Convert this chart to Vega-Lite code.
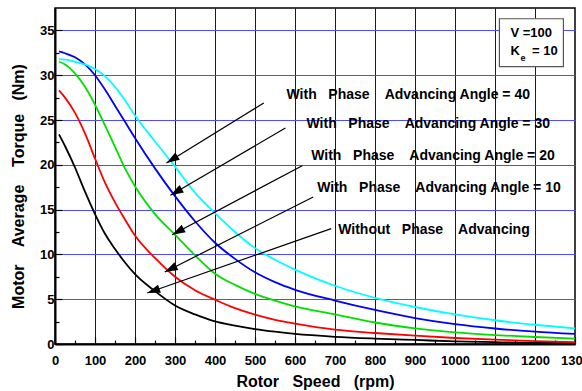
{
  "$schema": "https://vega.github.io/schema/vega-lite/v6.json",
  "autosize": {"type": "none"},
  "padding": {"left": 55, "top": 8, "right": 7, "bottom": 47},
  "width": 520,
  "height": 336,
  "background": "white",
  "config": {
    "view": {"stroke": "black", "strokeWidth": 1.5},
    "font": "Liberation Sans"
  },
  "resolve": {"axis": {"x": "independent", "y": "independent"}},
  "datasets": {
    "curves": [
      {"rpm": 10, "a40": 31.8, "a30": 32.65, "a20": 31.5, "a10": 28.3, "a0": 23.4},
      {"rpm": 25, "a40": 31.75, "a30": 32.45, "a20": 31.2, "a10": 27.5, "a0": 22.1},
      {"rpm": 50, "a40": 31.5, "a30": 32.0, "a20": 30.2, "a10": 25.8, "a0": 19.7},
      {"rpm": 75, "a40": 31.2, "a30": 31.2, "a20": 28.7, "a10": 23.5, "a0": 17.0},
      {"rpm": 100, "a40": 30.7, "a30": 30.0, "a20": 26.7, "a10": 20.7, "a0": 14.5},
      {"rpm": 125, "a40": 29.9, "a30": 28.4, "a20": 24.4, "a10": 18.0, "a0": 12.3},
      {"rpm": 150, "a40": 28.7, "a30": 26.6, "a20": 22.0, "a10": 15.8, "a0": 10.6},
      {"rpm": 175, "a40": 27.2, "a30": 24.8, "a20": 19.6, "a10": 13.9, "a0": 9.1},
      {"rpm": 200, "a40": 25.5, "a30": 23.0, "a20": 17.6, "a10": 12.1, "a0": 7.8},
      {"rpm": 250, "a40": 22.6, "a30": 19.6, "a20": 14.5, "a10": 9.6, "a0": 5.9},
      {"rpm": 300, "a40": 19.8, "a30": 16.5, "a20": 12.2, "a10": 7.5, "a0": 4.3},
      {"rpm": 350, "a40": 16.9, "a30": 13.7, "a20": 9.9, "a10": 6.0, "a0": 3.3},
      {"rpm": 400, "a40": 14.6, "a30": 11.3, "a20": 7.85, "a10": 4.94, "a0": 2.52},
      {"rpm": 450, "a40": 12.5, "a30": 9.5, "a20": 6.6, "a10": 4.0, "a0": 2.05},
      {"rpm": 500, "a40": 10.7, "a30": 8.0, "a20": 5.6, "a10": 3.27, "a0": 1.67},
      {"rpm": 550, "a40": 9.4, "a30": 6.9, "a20": 4.85, "a10": 2.7, "a0": 1.37},
      {"rpm": 600, "a40": 8.3, "a30": 6.05, "a20": 4.2, "a10": 2.27, "a0": 1.12},
      {"rpm": 700, "a40": 6.5, "a30": 4.85, "a20": 3.3, "a10": 1.6, "a0": 0.8},
      {"rpm": 800, "a40": 5.15, "a30": 3.8, "a20": 2.4, "a10": 1.23, "a0": 0.6},
      {"rpm": 900, "a40": 4.13, "a30": 2.9, "a20": 1.75, "a10": 0.93, "a0": 0.45},
      {"rpm": 1000, "a40": 3.3, "a30": 2.22, "a20": 1.3, "a10": 0.67, "a0": 0.3},
      {"rpm": 1100, "a40": 2.65, "a30": 1.73, "a20": 1.0, "a10": 0.48, "a0": 0.2},
      {"rpm": 1200, "a40": 2.15, "a30": 1.38, "a20": 0.78, "a10": 0.33, "a0": 0.13},
      {"rpm": 1300, "a40": 1.74, "a30": 1.12, "a20": 0.6, "a10": 0.22, "a0": 0.1}
    ],
    "arrows": [
      {"x1": 522, "y1": 26.9, "x2": 278.75, "y2": 20.2, "angle": 238.3},
      {"x1": 576, "y1": 24.1, "x2": 288.75, "y2": 16.6, "angle": 239.6},
      {"x1": 618, "y1": 19.9, "x2": 293, "y2": 12.2, "angle": 242.0},
      {"x1": 645.5, "y1": 16.4, "x2": 274.5, "y2": 8.04, "angle": 243.3},
      {"x1": 690.5, "y1": 12.87, "x2": 230.5, "y2": 5.69, "angle": 250.7}
    ],
    "labels": [
      {"t": "With\u00a0\u00a0 Phase\u00a0\u00a0\u00a0 Advancing Angle = 40", "x": 578.75, "y": 27.8},
      {"t": "With\u00a0\u00a0 Phase\u00a0\u00a0\u00a0 Advancing Angle = 30", "x": 628.75, "y": 24.6},
      {"t": "With\u00a0\u00a0 Phase\u00a0\u00a0\u00a0 Advancing Angle = 20", "x": 640.5, "y": 21.0},
      {"t": "With\u00a0\u00a0 Phase\u00a0\u00a0\u00a0 Advancing Angle = 10", "x": 655.5, "y": 17.4},
      {"t": "Without\u00a0\u00a0 Phase\u00a0\u00a0\u00a0 Advancing", "x": 708, "y": 12.68}
    ],
    "box": [{"x1": 1111, "x2": 1271, "y1": 30.95, "y2": 36.3}],
    "boxtext": [
      {"t": "V =100", "x": 1138.75, "y": 34.7},
      {"t": "K", "x": 1138.75, "y": 32.66},
      {"t": "= 10", "x": 1192.5, "y": 32.66}
    ],
    "subtext": [{"t": "e", "x": 1163.75, "y": 31.9}]
  },
  "layer": [
    {
      "data": {"name": "curves"},
      "transform": [{"fold": ["a0", "a10", "a20", "a30", "a40"], "as": ["series", "torque"]}],
      "mark": {"type": "line", "interpolate": "monotone", "strokeWidth": 1.8},
      "encoding": {
        "x": {
          "field": "rpm", "type": "quantitative",
          "scale": {"domain": [0, 1300], "nice": false, "zero": false},
          "axis": {
            "title": "Rotor\u00a0\u00a0 Speed\u00a0\u00a0 (rpm)",
            "values": [0,50,100,150,200,250,300,350,400,450,500,550,600,650,700,750,800,850,900,950,1000,1050,1100,1150,1200,1250,1300],
            "format": "d",
            "labelExpr": "datum.value % 100 === 0 ? datum.label : ''",
            "tickSize": {"condition": {"test": "datum.value % 100 === 0", "value": -7}, "value": -4},
            "tickColor": "black", "tickWidth": 1.2,
            "grid": true,
            "gridColor": "#0000ff", "gridWidth": 1,
            "gridOpacity": {"condition": {"test": "datum.value % 100 === 0 && datum.value > 0 && datum.value < 1300", "value": 1}, "value": 0},
            "domainColor": "black", "domainWidth": 2,
            "labelFontSize": 13, "labelFontWeight": "bold", "labelColor": "black",
            "labelPadding": 17, "labelFlush": false, "labelOverlap": false,
            "titleFontSize": 16, "titleFontWeight": "bold", "titleColor": "black",
            "titleY": 42, "titleBaseline": "alphabetic"
          }
        },
        "y": {
          "field": "torque", "type": "quantitative",
          "scale": {"domain": [0, 37.5], "nice": false},
          "axis": {
            "title": "Motor\u00a0\u00a0\u00a0 Average\u00a0\u00a0\u00a0 Torque\u00a0\u00a0 (Nm)",
            "values": [0,2.5,5,7.5,10,12.5,15,17.5,20,22.5,25,27.5,30,32.5,35],
            "labelExpr": "datum.value % 5 === 0 ? datum.label : ''",
            "tickSize": {"condition": {"test": "datum.value % 5 === 0", "value": -7}, "value": -4},
            "tickColor": "black", "tickWidth": 1.2,
            "grid": true,
            "gridColor": "#4d4dff", "gridWidth": 1.2,
            "gridOpacity": {"condition": {"test": "datum.value % 5 === 0 && datum.value > 0", "value": 1}, "value": 0},
            "domainColor": "black", "domainWidth": 2,
            "labelFontSize": 13, "labelFontWeight": "bold", "labelColor": "black",
            "labelPadding": 8, "labelFlush": false, "labelOverlap": false,
            "titleFontSize": 16, "titleFontWeight": "bold", "titleColor": "black",
            "titleX": -32, "titleY": 178, "titleBaseline": "alphabetic"
          }
        },
        "color": {
          "field": "series", "type": "nominal",
          "scale": {"domain": ["a0", "a10", "a20", "a30", "a40"], "range": ["#000000", "#ff0000", "#00e000", "#0000ff", "#00ffff"]},
          "legend": null
        }
      }
    },
    {
      "data": {"name": "arrows"},
      "mark": {"type": "rule", "color": "black", "strokeWidth": 1.2},
      "encoding": {
        "x": {"field": "x1", "type": "quantitative", "axis": null},
        "y": {"field": "y1", "type": "quantitative", "axis": null},
        "x2": {"field": "x2"},
        "y2": {"field": "y2"}
      }
    },
    {
      "data": {"name": "arrows"},
      "mark": {"type": "point", "shape": "M0,0 L-0.33,1 L0.33,1 Z", "filled": true, "color": "black", "opacity": 1, "size": 676},
      "encoding": {
        "x": {"field": "x2", "type": "quantitative", "axis": null},
        "y": {"field": "y2", "type": "quantitative", "axis": null},
        "angle": {"field": "angle", "type": "quantitative", "scale": null}
      }
    },
    {
      "data": {"name": "labels"},
      "mark": {"type": "text", "align": "left", "baseline": "middle", "fontSize": 14, "fontWeight": "bold", "color": "black"},
      "encoding": {
        "x": {"field": "x", "type": "quantitative", "axis": null},
        "y": {"field": "y", "type": "quantitative", "axis": null},
        "text": {"field": "t"}
      }
    },
    {
      "data": {"name": "box"},
      "mark": {"type": "rect", "fill": "white", "stroke": "#555555", "strokeWidth": 1.2},
      "encoding": {
        "x": {"field": "x1", "type": "quantitative", "axis": null},
        "x2": {"field": "x2"},
        "y": {"field": "y1", "type": "quantitative", "axis": null},
        "y2": {"field": "y2"}
      }
    },
    {
      "data": {"name": "boxtext"},
      "mark": {"type": "text", "align": "left", "baseline": "middle", "fontSize": 13, "fontWeight": "bold", "color": "black"},
      "encoding": {
        "x": {"field": "x", "type": "quantitative", "axis": null},
        "y": {"field": "y", "type": "quantitative", "axis": null},
        "text": {"field": "t"}
      }
    },
    {
      "data": {"name": "subtext"},
      "mark": {"type": "text", "align": "left", "baseline": "middle", "fontSize": 9, "fontWeight": "bold", "color": "black"},
      "encoding": {
        "x": {"field": "x", "type": "quantitative", "axis": null},
        "y": {"field": "y", "type": "quantitative", "axis": null},
        "text": {"field": "t"}
      }
    }
  ]
}
